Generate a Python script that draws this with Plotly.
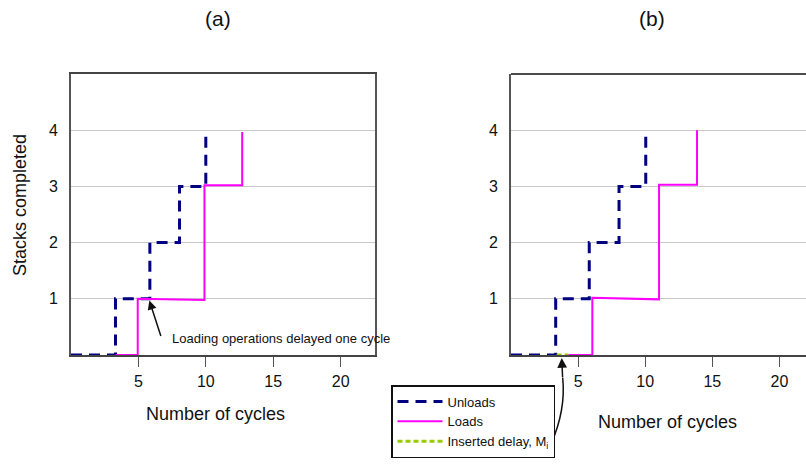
import plotly.graph_objects as go

W, H = 806, 464

# ---------------- data ----------------
# Panel (a)
a_unload_x = [0, 3.3, 3.3, 5.85, 5.85, 8.05, 8.05, 10.0, 10.0]
a_unload_y = [0, 0, 1, 1, 2, 2, 3, 3, 4]
a_load_x = [3.3, 4.95, 4.95, 9.9, 9.9, 12.7, 12.7]
a_load_y = [0, 0, 1.0, 0.98, 3.02, 3.02, 3.97]

# Panel (b)
b_unload_x = [0, 3.33, 3.33, 5.83, 5.83, 8.05, 8.05, 10.04, 10.04]
b_unload_y = [0, 0, 1, 1, 2, 2, 3, 3, 4]
b_load_x = [4.27, 6.06, 6.06, 11.03, 11.03, 13.86, 13.86]
b_load_y = [0, 0, 1.02, 0.99, 3.03, 3.03, 4.0]
b_delay_x = [3.4, 4.27]
b_delay_y = [0, 0]

x_ticks = [5, 10, 15, 20]
y_ticks = [1, 2, 3, 4]

FONT = "Arial, Liberation Sans, sans-serif"
NAVY = "#000080"
MAGENTA = "#FF00FF"
GREEN = "#99CC00"


def px(p):
    return p / W


def py(p):
    return 1 - p / H


fig = go.Figure()

unload_line = dict(color=NAVY, width=3, dash="11px,7px")
load_line = dict(color=MAGENTA, width=2)

fig.add_trace(go.Scatter(x=a_unload_x, y=a_unload_y, mode="lines", line=unload_line,
                         xaxis="x", yaxis="y", showlegend=False, name="Unloads"))
fig.add_trace(go.Scatter(x=a_load_x, y=a_load_y, mode="lines", line=load_line,
                         xaxis="x", yaxis="y", showlegend=False, name="Loads"))

fig.add_trace(go.Scatter(x=b_unload_x, y=b_unload_y, mode="lines", line=unload_line,
                         xaxis="x2", yaxis="y2", name="Unloads"))
fig.add_trace(go.Scatter(x=b_load_x, y=b_load_y, mode="lines", line=load_line,
                         xaxis="x2", yaxis="y2", name="Loads"))
fig.add_trace(go.Scatter(x=b_delay_x, y=b_delay_y, mode="lines",
                         line=dict(color=GREEN, width=3, dash="5px,3px"),
                         xaxis="x2", yaxis="y2", name="Inserted delay, M<sub>i</sub>"))

ydom = [py(355), py(74)]

xcommon = dict(tickvals=x_ticks, ticks="outside", ticklen=10, tickcolor="#555",
               tickwidth=1, showgrid=False, zeroline=False, showline=True,
               linecolor="#444", linewidth=2, tickfont=dict(size=16, color="#111"),
               ticklabelstandoff=1, automargin=False, layer="below traces")
ycommon = dict(tickvals=y_ticks, ticks="", showgrid=True, gridcolor="#C8C8C8",
               gridwidth=1, zeroline=False, showline=True, linecolor="#555",
               linewidth=2, tickfont=dict(size=16, color="#111"),
               ticklabelstandoff=8, automargin=False, range=[0, 5], layer="below traces")

fig.update_layout(
    width=W, height=H,
    margin=dict(l=0, r=0, t=0, b=0),
    paper_bgcolor="white", plot_bgcolor="white",
    font=dict(family=FONT, color="#111"),
    xaxis=dict(domain=[px(71), px(375)], range=[0, 22.55], mirror=True, anchor="y", **xcommon),
    yaxis=dict(domain=ydom, anchor="x", mirror=True, **ycommon),
    xaxis2=dict(domain=[px(511), 1.0], range=[0, 21.98], anchor="y2", **xcommon),
    yaxis2=dict(domain=ydom, anchor="x2", **ycommon),
    legend=dict(x=px(391), y=py(385), xanchor="left", yanchor="top",
                bordercolor="#111", borderwidth=1.5, bgcolor="white",
                font=dict(size=13, color="#111", family=FONT), itemwidth=45,
                tracegroupgap=0),
    showlegend=True,
)

# top border for panel (b)
fig.add_shape(type="line", xref="x2 domain", yref="y2 domain", x0=0, x1=1, y0=1, y1=1,
              line=dict(color="#111", width=1.5))


def label(text, x, y, size, **kw):
    d = dict(text=text, x=px(x), y=py(y), xref="paper", yref="paper", showarrow=False,
             xanchor="center", yanchor="middle", font=dict(size=size))
    d.update(kw)
    return d


annotations = [
    label("(a)", 218, 19, 21),
    label("(b)", 652, 19, 21),
    label("Stacks completed", 20, 205, 18, textangle=-90),
    label("Number of cycles", 216, 414, 18),
    label("Number of cycles", 667, 422, 18),
    label("Loading operations delayed one cycle", 170, 338, 13, xanchor="left"),
    # arrow in (a)
    dict(text="", x=5.81, y=0.97, xref="x", yref="y", showarrow=True, arrowhead=2,
         arrowsize=1.2, arrowwidth=1.5, arrowcolor="#111", ax=12, ay=37,
         axref="pixel", ayref="pixel"),
    # arrow head in (b) (points at the inserted delay)
    dict(text="", x=px(561.7), y=py(358), xref="paper", yref="paper", showarrow=True,
         arrowhead=2, arrowsize=1.3, arrowwidth=1.5, arrowcolor="#111", ax=1, ay=21,
         axref="pixel", ayref="pixel"),
]
fig.update_layout(annotations=annotations)

# curved tail of the arrow in (b)
fig.add_shape(type="path", xref="paper", yref="paper",
              path=f"M {px(551)} {py(444)} Q {px(566)} {py(410)} {px(562.7)} {py(378)}",
              line=dict(color="#111", width=1.5))

fig.write_html("out.html")
